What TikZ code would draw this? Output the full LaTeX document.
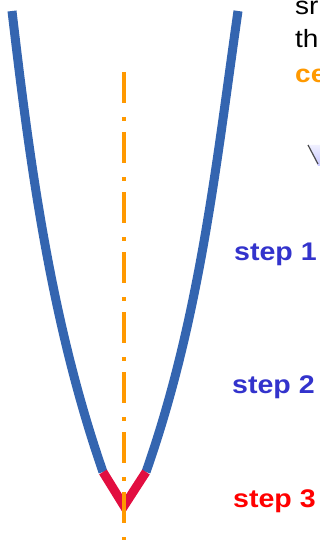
\documentclass[tikz,border=0pt]{standalone}
\usepackage{fontspec}
\setmainfont{Liberation Sans}
\definecolor{curveblue}{RGB}{52,101,176}
\definecolor{tipred}{RGB}{226,14,64}
\definecolor{axisorange}{RGB}{255,153,0}
\definecolor{stepblue}{RGB}{51,51,204}
\definecolor{stepred}{RGB}{255,0,0}
\begin{document}
\begin{tikzpicture}[x=1pt,y=-1pt,
  wall/.style={draw=curveblue,line width=9pt,line cap=butt},
  tip/.style={draw=tipred,line width=9pt,line join=miter,line cap=butt},
  axisline/.style={draw=axisorange,line width=4pt,dash pattern=on 31pt off 14pt on 4pt off 11pt},
  steplabel/.style={anchor=base west,inner sep=0pt,font=\fontsize{25.5}{26}\selectfont\bfseries},
  sidetext/.style={anchor=base west,inner sep=0pt,font=\fontsize{25}{25}\selectfont}]
\useasboundingbox (0,0) rectangle (320,540);
\clip (0,0) rectangle (320,540);
% tip coordinates
\coordinate (tl) at (103,472);
\coordinate (apex) at (124,506);
\coordinate (tr) at (146,472);
\coordinate (lt) at (12,11);
\coordinate (rt) at (238,11);
% walls
\draw[wall] (lt) .. controls (30,165) and (51,322) .. (tl);
\draw[wall] (rt) .. controls (216,165) and (200,318) .. (tr);
% tip
\draw[tip] (tl) -- (apex) -- (tr);
% axis
\coordinate (atop) at (124,72);
\coordinate (abot) at (124,545);
\draw[axisline] (atop) -- (abot);
% small triangle fragment
\shade[top color=blue!6,bottom color=blue!22] (308,145) -- (322,145) -- (322,166) -- (318,166) -- cycle;
\draw[gray!60!black,line width=1.2pt] (308,145) -- (318,164);
% top right text
\node[sidetext] (t1) at (295,15) {\scalebox{1.12}[1]{sr}};
\node[sidetext] (t2) at (295,48) {\scalebox{1.12}[1]{th}};
\node[sidetext,text=axisorange,font=\fontsize{25}{25}\selectfont\bfseries] (t3) at (295,83) {\scalebox{1.12}[1]{ce}};
% step labels
\node[steplabel,text=stepblue] (s1) at (234,260) {\scalebox{1.12}[1]{step 1}};
\node[steplabel,text=stepblue] (s2) at (232,393) {\scalebox{1.12}[1]{step 2}};
\node[steplabel,text=stepred] (s3) at (233,507) {\scalebox{1.12}[1]{step 3}};
\end{tikzpicture}
\end{document}
